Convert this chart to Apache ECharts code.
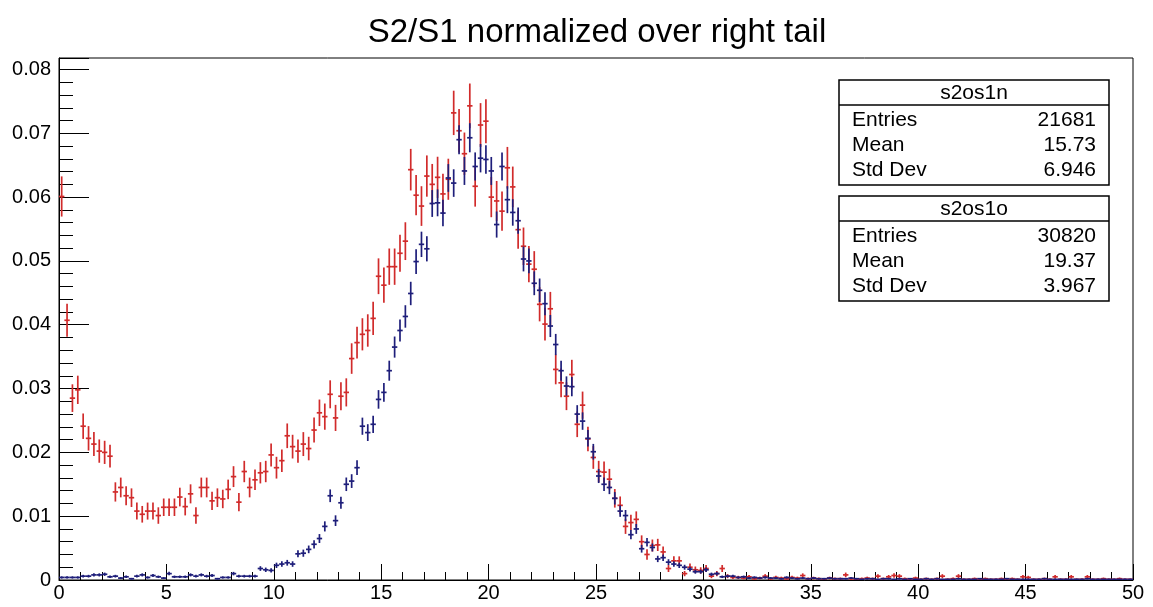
<!DOCTYPE html>
<html><head><meta charset="utf-8">
<script src="https://cdn.jsdelivr.net/npm/echarts@6/dist/echarts.min.js"></script>
<style>html,body{margin:0;padding:0;background:#fff}#c{width:1153px;height:607px}</style>
</head><body><div id="c"></div>
<script>
// ---------------- data ----------------
const titleText = 'S2/S1 normalized over right tail';
const binWidth = 0.25;          // 200 bins from 0 to 50
const xMin = 0, xMax = 50, xInterval = 5;
const yMin = 0, yMax = 0.0818, yInterval = 0.01;

// s2os1n (red) bin contents
const redValues = [
0.0601,0.0407,0.0285,0.0298,0.0241,0.0222,0.0213,0.0202,0.0200,0.0194,
0.0138,0.0145,0.0132,0.0129,0.0108,0.0103,0.0108,0.0108,0.0101,0.0114,
0.0114,0.0114,0.0130,0.0115,0.0135,0.0101,0.0145,0.0145,0.0124,0.0129,
0.0127,0.0142,0.0162,0.0122,0.0170,0.0145,0.0157,0.0168,0.0170,0.0196,
0.0176,0.0187,0.0226,0.0209,0.0202,0.0213,0.0206,0.0235,0.0262,0.0256,
0.0291,0.0254,0.0288,0.0294,0.0347,0.0372,0.0385,0.0391,0.0410,0.0476,
0.0462,0.0491,0.0491,0.0512,0.0531,0.0643,0.0603,0.0586,0.0633,0.0620,
0.0631,0.0605,0.0628,0.0732,0.0704,0.0668,0.0743,0.0617,0.0713,0.0719,
0.0600,0.0594,0.0578,0.0646,0.0616,0.0549,0.0523,0.0495,0.0487,0.0432,
0.0401,0.0425,0.0330,0.0309,0.0288,0.0322,0.0244,0.0274,0.0221,0.0192,
0.0170,0.0169,0.0158,0.0128,0.0117,0.0084,0.0090,0.0095,0.0060,0.0040,
0.0054,0.0055,0.0044,0.0018,0.0030,0.0030,0.0010,0.0020,0.0016,0.0015,
0.0018,0.0006,0.0010,0.0018,0.0006,0.0004,0.0004,0.0003,0.0005,0.0002,
0.0003,0.0006,0.0002,0.0004,0.0003,0.0002,0.0004,0.0003,0.0007,0.0002,
0.0003,0.0002,0.0001,0.0003,0.0002,0.0002,0.0008,0.0002,0.0001,0.0002,
0.0003,0.0002,0.0006,0.0002,0.0005,0.0007,0.0006,0.0002,0.0001,0.0003,
0.0001,0.0002,0.0001,0.0002,0.0006,0.0001,0.0002,0.0006,0.0001,0.0001,
0.0002,0.0001,0.0002,0.0001,0.0001,0.0002,0.0001,0.0002,0.0001,0.0005,
0.0004,0.0001,0.0001,0.0002,0.0001,0.0005,0.0001,0.0001,0.0005,0.0001,
0.0001,0.0005,0.0001,0.0001,0.0002,0.0001,0.0001,0.0002,0.0001,0.0001
];

// s2os1o (blue) bin contents
const blueValues = [
0.0004,0.0004,0.0004,0.0004,0.0006,0.0006,0.0008,0.0008,0.0009,0.0005,
0.0006,0.0003,0.0005,0.0002,0.0006,0.0008,0.0004,0.0007,0.0005,0.0003,
0.0010,0.0005,0.0005,0.0005,0.0008,0.0006,0.0008,0.0006,0.0007,0.0002,
0.0004,0.0004,0.0010,0.0006,0.0006,0.0006,0.0006,0.0018,0.0016,0.0015,
0.0023,0.0025,0.0027,0.0025,0.0041,0.0042,0.0048,0.0056,0.0065,0.0084,
0.0132,0.0093,0.0121,0.0150,0.0155,0.0176,0.0241,0.0231,0.0244,0.0283,
0.0294,0.0328,0.0365,0.0391,0.0413,0.0449,0.0499,0.0526,0.0519,0.0590,
0.0591,0.0575,0.0630,0.0622,0.0690,0.0641,0.0693,0.0648,0.0661,0.0659,
0.0641,0.0557,0.0648,0.0596,0.0576,0.0563,0.0503,0.0500,0.0465,0.0454,
0.0433,0.0398,0.0369,0.0328,0.0304,0.0303,0.0260,0.0249,0.0222,0.0201,
0.0163,0.0150,0.0145,0.0128,0.0108,0.0101,0.0071,0.0080,0.0049,0.0059,
0.0051,0.0033,0.0035,0.0028,0.0025,0.0023,0.0020,0.0017,0.0013,0.0013,
0.0016,0.0009,0.0010,0.0005,0.0006,0.0006,0.0004,0.0005,0.0003,0.0004,
0.0003,0.0004,0.0003,0.0003,0.0002,0.0004,0.0003,0.0002,0.0003,0.0002,
0.0003,0.0002,0.0002,0.0003,0.0002,0.0002,0.0002,0.0003,0.0002,0.0001,
0.0002,0.0002,0.0001,0.0002,0.0002,0.0001,0.0002,0.0001,0.0002,0.0001,
0.0001,0.0002,0.0001,0.0002,0.0001,0.0001,0.0001,0.0002,0.0001,0.0001,
0.0001,0.0002,0.0001,0.0001,0.0001,0.0001,0.0002,0.0001,0.0001,0.0001,
0.0001,0.0001,0.0001,0.0002,0.0001,0.0001,0.0001,0.0001,0.0001,0.0001,
0.0001,0.0002,0.0001,0.0001,0.0001,0.0001,0.0001,0.0001,0.0001,0.0001
];

// per-entry weight of each normalized histogram (bin error = sqrt(content * weight), as in ROOT)
const redEntryWeight = 1.65e-4;
const blueEntryWeight = 7.5e-5;

// stat boxes
const statNames = ['s2os1n', 's2os1o'];
const statLabels = ['Entries', 'Mean', 'Std Dev'];
const statValuesN = ['21681', '15.73', '6.946'];
const statValuesO = ['30820', '19.37', '3.967'];

// ---------------- chart ----------------
const RED = '#d12b2b', BLUE = '#1e1e7a';
const FONT = "'Liberation Sans', Arial, Helvetica, sans-serif";

function toData(vals, w) {
  return vals.map((v, i) => [(i + 0.5) * binWidth, v, Math.sqrt(v * w)]);
}

function crossRenderer(color) {
  return function (params, api) {
    const x = api.value(0), y = api.value(1), e = api.value(2);
    const pl = api.coord([x - binWidth / 2, y]);
    const pr = api.coord([x + binWidth / 2, y]);
    const pt = api.coord([x, y + e]);
    const pb = api.coord([x, Math.max(0, y - e)]);
    const st = { stroke: color, lineWidth: 1.7 };
    return {
      type: 'group',
      children: [
        { type: 'line', shape: { x1: pl[0], y1: pl[1], x2: pr[0], y2: pr[1] }, style: st },
        { type: 'line', shape: { x1: pt[0], y1: pt[1], x2: pb[0], y2: pb[1] }, style: st }
      ]
    };
  };
}

function statBox(top, name, values) {
  const left = 839, w = 270, rowH = 25;
  const els = [
    { type: 'rect', shape: { x: left, y: top, width: w, height: 105 },
      style: { fill: '#fff', stroke: '#000', lineWidth: 1.5 }, z: 100 },
    { type: 'line', shape: { x1: left, y1: top + 25, x2: left + w, y2: top + 25 },
      style: { stroke: '#000', lineWidth: 1.5 }, z: 101 },
    { type: 'text', x: left + w / 2, y: top + 13.5, z: 101,
      style: { text: name, font: '21px ' + FONT, fill: '#000', textAlign: 'center', textVerticalAlign: 'middle', align: 'center', verticalAlign: 'middle' } }
  ];
  statLabels.forEach((lab, k) => {
    const yy = top + 40 + k * rowH;
    els.push({ type: 'text', x: left + 13, y: yy, z: 101,
      style: { text: lab, font: '21px ' + FONT, fill: '#000', textAlign: 'left', textVerticalAlign: 'middle', align: 'left', verticalAlign: 'middle' } });
    els.push({ type: 'text', x: left + w - 13, y: yy, z: 101,
      style: { text: values[k], font: '21px ' + FONT, fill: '#000', textAlign: 'right', textVerticalAlign: 'middle', align: 'right', verticalAlign: 'middle' } });
  });
  return els;
}

const chart = echarts.init(document.getElementById('c'));
chart.setOption({
  animation: false,
  backgroundColor: '#fff',
  title: {
    text: titleText, left: 592, textAlign: 'center', top: 11,
    textStyle: { fontFamily: FONT, fontSize: 33, fontWeight: 'normal', color: '#000' }
  },
  grid: { left: 59, right: 20, top: 58, bottom: 27, show: true, borderColor: '#000', borderWidth: 1, backgroundColor: 'transparent' },
  xAxis: {
    type: 'value', min: xMin, max: xMax, interval: xInterval,
    axisLine: { show: true, lineStyle: { color: '#000', width: 1 } },
    axisTick: { show: true, inside: true, length: 16, lineStyle: { color: '#000' } },
    minorTick: { show: true, splitNumber: 5, length: 8, lineStyle: { color: '#000' } },
    splitLine: { show: false },
    axisLabel: { color: '#000', fontFamily: FONT, fontSize: 20, margin: 3 }
  },
  yAxis: {
    type: 'value', min: yMin, max: yMax, interval: yInterval,
    axisLine: { show: true, lineStyle: { color: '#000', width: 1 } },
    axisTick: { show: true, inside: true, length: 30, lineStyle: { color: '#000' } },
    minorTick: { show: true, splitNumber: 5, length: 14, lineStyle: { color: '#000' } },
    splitLine: { show: false },
    axisLabel: { color: '#000', fontFamily: FONT, fontSize: 20, margin: 8, showMaxLabel: false,
      formatter: v => (Math.abs(v) < 1e-12 ? '0' : +v.toFixed(3) + '') }
  },
  graphic: statBox(80, statNames[0], statValuesN).concat(statBox(196, statNames[1], statValuesO)),
  series: [
    { type: 'custom', name: 's2os1n', clip: true, renderItem: crossRenderer(RED),
      encode: { x: 0, y: 1 }, data: toData(redValues, redEntryWeight), z: 2 },
    { type: 'custom', name: 's2os1o', clip: true, renderItem: crossRenderer(BLUE),
      encode: { x: 0, y: 1 }, data: toData(blueValues, blueEntryWeight), z: 3 }
  ]
});
</script></body></html>
